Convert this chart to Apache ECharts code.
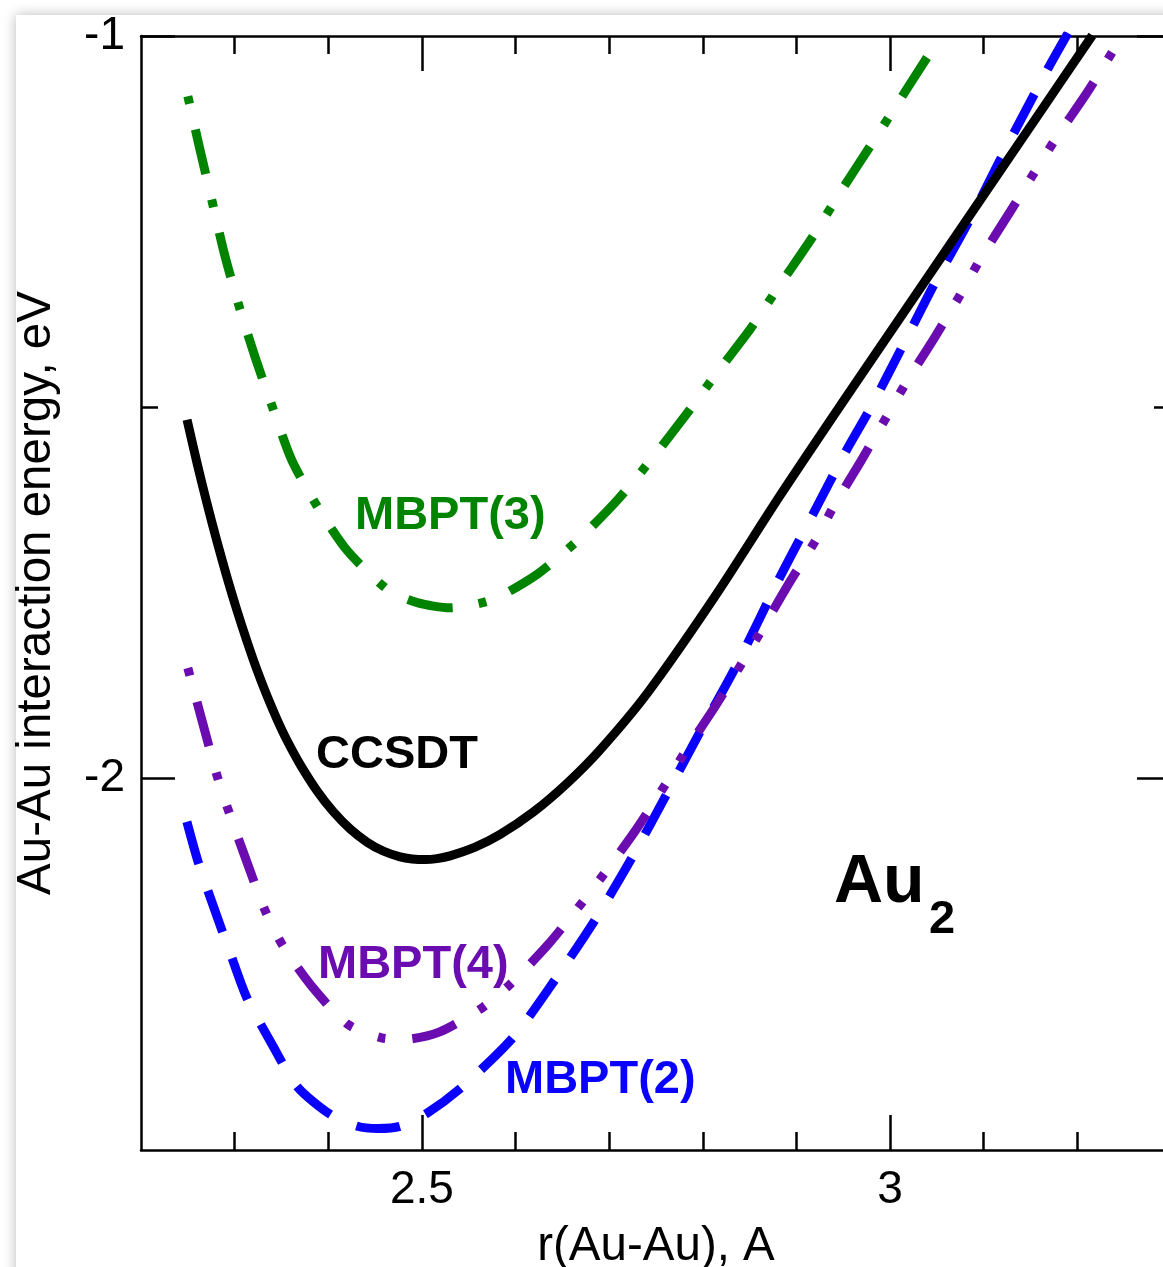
<!DOCTYPE html>
<html><head><meta charset="utf-8">
<script src="https://cdn.jsdelivr.net/npm/echarts@6/dist/echarts.min.js"></script>
<style>html,body{margin:0;padding:0;background:#fff;overflow:hidden}#c{width:1175px;height:1267px}</style>
</head><body><div id="c"></div>
<script>
// ---- data ----
const ccsdtR = [2.2492, 2.2598, 2.2705, 2.2812, 2.2919, 2.3026, 2.3133, 2.3239, 2.3346, 2.3453, 2.3560, 2.3699, 2.3880, 2.4051, 2.4233, 2.4415, 2.4586, 2.4767, 2.4895, 2.5034, 2.5162, 2.5301, 2.5568, 2.5836, 2.6188, 2.6551, 2.6904, 2.7406, 2.8120, 2.8827, 2.9532, 3.0248, 3.0964, 3.1658, 3.2160];
const ccsdtE = [-1.5168, -1.5748, -1.6295, -1.6809, -1.7290, -1.7739, -1.8154, -1.8537, -1.8886, -1.9203, -1.9487, -1.9807, -2.0164, -2.0440, -2.0676, -2.0855, -2.0974, -2.1053, -2.1081, -2.1090, -2.1076, -2.1040, -2.0923, -2.0751, -2.0451, -2.0061, -1.9610, -1.8851, -1.7564, -1.6184, -1.4859, -1.3533, -1.2207, -1.0922, -0.9992];

const mbpt3R = [2.250, 2.263, 2.276, 2.289, 2.305, 2.322, 2.341, 2.361, 2.389, 2.421, 2.464, 2.495, 2.530, 2.575, 2.624, 2.669, 2.710, 2.747, 2.782, 2.816, 2.851, 2.884, 2.917, 2.947, 2.979, 3.009, 3.041, 3.055];
const mbpt3E = [-1.081, -1.153, -1.223, -1.293, -1.365, -1.433, -1.502, -1.571, -1.635, -1.694, -1.746, -1.763, -1.770, -1.759, -1.724, -1.676, -1.623, -1.567, -1.510, -1.452, -1.394, -1.332, -1.271, -1.210, -1.148, -1.089, -1.026, -1.000];

const mbpt2R = [2.249, 2.261, 2.279, 2.297, 2.313, 2.340, 2.367, 2.402, 2.431, 2.453, 2.477, 2.506, 2.543, 2.597, 2.642, 2.685, 2.725, 2.763, 2.797, 2.837, 2.881, 2.918, 2.952, 2.979, 3.014, 3.048, 3.086, 3.132, 3.169, 3.190];
const mbpt2E = [-2.058, -2.112, -2.178, -2.241, -2.295, -2.358, -2.415, -2.452, -2.468, -2.471, -2.468, -2.450, -2.415, -2.349, -2.271, -2.190, -2.105, -2.017, -1.937, -1.845, -1.732, -1.643, -1.561, -1.501, -1.416, -1.332, -1.245, -1.131, -1.043, -0.996];

const mbpt4R = [2.250, 2.265, 2.281, 2.292, 2.311, 2.332, 2.351, 2.382, 2.421, 2.457, 2.482, 2.519, 2.565, 2.594, 2.635, 2.671, 2.694, 2.728, 2.760, 2.779, 2.813, 2.842, 2.861, 2.891, 2.921, 2.939, 2.969, 2.998, 3.017, 3.048, 3.078, 3.097, 3.128, 3.158, 3.178, 3.212, 3.242, 3.248];
const mbpt4E = [-1.851, -1.921, -1.995, -2.038, -2.105, -2.176, -2.224, -2.279, -2.331, -2.349, -2.351, -2.341, -2.308, -2.277, -2.223, -2.167, -2.129, -2.070, -2.008, -1.968, -1.903, -1.844, -1.804, -1.739, -1.678, -1.635, -1.572, -1.509, -1.467, -1.405, -1.342, -1.299, -1.237, -1.176, -1.136, -1.073, -1.012, -1.000];

const xMajorTicks = [2.5, 3];
const xMinorTicks = [2.3, 2.4, 2.6, 2.7, 2.8, 2.9, 3.1, 3.2];
const yMajorTicks = [-2, -1];
const yMinorTicks = [-1.5];

const seriesNames = ['MBPT(2)', 'MBPT(4)', 'MBPT(3)', 'CCSDT'];
const xTitle = 'r(Au-Au), A';
const yTitle = 'Au-Au interaction energy, eV';

// ---- styling ----
const FONT = '"Liberation Sans", Arial, Helvetica, sans-serif';
const C_BLUE = '#0a00ff', C_PURPLE = '#6a0cb0', C_GREEN = '#008400', C_BLACK = '#000000';
const XMIN = 2.2, XMAX = 3.3, YMIN = -2.5, YMAX = -1;
const LW = 9;

function zip(a, b) { return a.map((v, i) => [v, b[i]]); }

function xAx(pos, ticks, len, withLabels, withLine) {
  return {
    type: 'value', position: pos, min: XMIN, max: XMAX,
    axisLine: { show: withLine, onZero: false, lineStyle: { color: '#000', width: 2.5 } },
    axisTick: { show: true, inside: true, length: len, customValues: ticks, lineStyle: { color: '#000', width: 2.5 } },
    axisLabel: { show: withLabels, customValues: ticks, margin: 17, color: '#000', fontSize: 46, fontFamily: FONT },
    splitLine: { show: false }
  };
}
function yAx(pos, ticks, len, withLabels, withLine) {
  return {
    type: 'value', position: pos, min: YMIN, max: YMAX,
    axisLine: { show: withLine, onZero: false, lineStyle: { color: '#000', width: 2.5 } },
    axisTick: { show: true, inside: true, length: len, customValues: ticks, lineStyle: { color: '#000', width: 2.5 } },
    axisLabel: { show: withLabels, customValues: ticks, margin: 16, color: '#000', fontSize: 46, fontFamily: FONT },
    splitLine: { show: false }
  };
}

const xAxes = [
  xAx('bottom', xMajorTicks, 35, true, true),
  xAx('top', xMajorTicks, 35, false, true),
  xAx('bottom', xMinorTicks, 18, false, false),
  xAx('top', xMinorTicks, 18, false, false)
];
Object.assign(xAxes[0], { name: xTitle, nameLocation: 'middle', nameGap: 73,
  nameTextStyle: { color: '#000', fontSize: 47.5, fontFamily: FONT } });

const yAxes = [
  yAx('left', yMajorTicks, 34, true, true),
  yAx('right', yMajorTicks, 34, false, true),
  yAx('left', yMinorTicks, 17, false, false),
  yAx('right', yMinorTicks, 17, false, false)
];
Object.assign(yAxes[0], { name: yTitle, nameLocation: 'middle', nameGap: 80,
  nameTextStyle: { color: '#000', fontSize: 47.5, fontFamily: FONT } });

function lineSeries(name, r, e, color, dash, offset, sm) {
  return {
    name, type: 'line', xAxisIndex: 0, yAxisIndex: 0,
    data: zip(r, e), showSymbol: false, smooth: sm, clip: true,
    lineStyle: { color, width: LW, type: dash, dashOffset: offset, cap: 'butt', join: 'round' },
    emphasis: { disabled: true }, silent: true
  };
}

const chart = echarts.init(document.getElementById('c'), null, { renderer: 'canvas' });
chart.setOption({
  backgroundColor: '#ffffff',
  animation: false,
  grid: { left: 141, top: 36, width: 1030, height: 1114, containLabel: false, outerBoundsMode: 'none' },
  xAxis: xAxes,
  yAxis: yAxes,
  series: [
    lineSeries(seriesNames[0], mbpt2R, mbpt2E, C_BLUE, [44, 28], 0, 0.25),
    lineSeries(seriesNames[1], mbpt4R, mbpt4E, C_PURPLE, [46, 27, 8, 27, 8, 27], 108, 0.25),
    lineSeries(seriesNames[2], mbpt3R, mbpt3E, C_GREEN, [46, 26, 8, 26], 72, 0.25),
    lineSeries(seriesNames[3], ccsdtR, ccsdtE, C_BLACK, 'solid', 0, 0.3)
  ],
  graphic: { elements: [
    { type: 'rect', z: -100, silent: true, shape: { x: 16, y: 15, width: 1300, height: 1400 },
      style: { fill: '#fff', shadowBlur: 12, shadowColor: 'rgba(0,0,0,0.28)' } },
    { type: 'text', x: 355, y: 516, z: 100, style: { text: seriesNames[2], fill: C_GREEN, font: 'bold 47px ' + FONT, verticalAlign: 'middle' } },
    { type: 'text', x: 316, y: 755, z: 100, style: { text: seriesNames[3], fill: C_BLACK, font: 'bold 47px ' + FONT, verticalAlign: 'middle' } },
    { type: 'text', x: 318, y: 965, z: 100, style: { text: seriesNames[1], fill: C_PURPLE, font: 'bold 47px ' + FONT, verticalAlign: 'middle' } },
    { type: 'text', x: 505, y: 1080, z: 100, style: { text: seriesNames[0], fill: C_BLUE, font: 'bold 47px ' + FONT, verticalAlign: 'middle' } },
    { type: 'text', x: 834, y: 883, z: 100, style: { text: 'Au', fill: '#000', font: 'bold 68px ' + FONT, verticalAlign: 'middle' } },
    { type: 'text', x: 929, y: 920, z: 100, style: { text: '2', fill: '#000', font: 'bold 47px ' + FONT, verticalAlign: 'middle' } }
  ] }
});
</script>
</body></html>
